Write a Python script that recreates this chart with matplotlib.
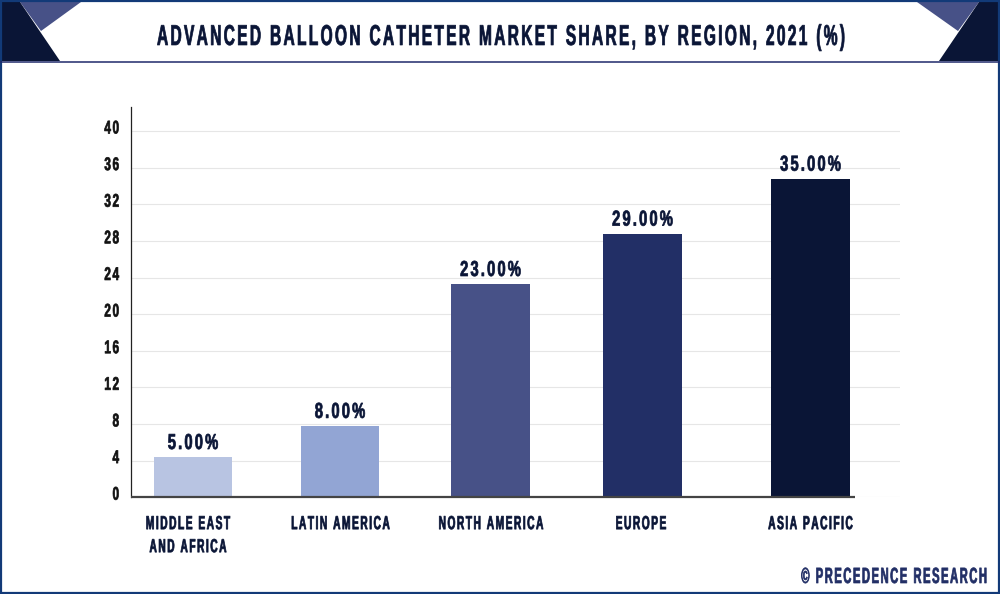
import matplotlib
matplotlib.use("Agg")
import matplotlib.pyplot as plt
import matplotlib.colors as mcolors
from matplotlib import font_manager as fm
from matplotlib.ft2font import LoadFlags
from matplotlib.patches import Polygon, Rectangle
from matplotlib.path import Path
from matplotlib.text import Text
from matplotlib.textpath import TextPath
from matplotlib.transforms import Affine2D, Bbox

regions = ["MIDDLE EAST\nAND AFRICA", "LATIN AMERICA", "NORTH AMERICA", "EUROPE", "ASIA PACIFIC"]
bar_heights = [4.4, 7.8, 23.3, 28.8, 34.8]
bar_labels = ["5.00%", "8.00%", "23.00%", "29.00%", "35.00%"]
bar_colors = ["#b8c4e2", "#92a5d4", "#475187", "#222f66", "#0a1536"]
yticks = [0, 4, 8, 12, 16, 20, 24, 28, 32, 36, 40]
title = "ADVANCED BALLOON CATHETER MARKET SHARE, BY REGION, 2021 (%)"
credit = "© PRECEDENCE RESEARCH"

# pixel layout, the bars are not evenly spaced in the original
bar_x = [193, 340, 490.5, 642.5, 810.5]
label_x = [188, 340.5, 491, 641, 810.5]
bar_w = 78.5
W, H = 1000, 594
navy = "#0a1536"
CAP = 0.729  # cap height of Liberation Sans, in em


class NarrowText(Text):
    # the original uses a condensed tracked font and none is installed,
    # so squeeze the glyph outlines at draw time
    sx = 0.54
    track = 0.08
    dy = 0
    bold = 0.5

    def _lines(self):
        fp = self.get_fontproperties()
        size = fp.get_size_in_points() * self.get_figure().dpi / 72
        font = fm.get_font(fm.findfont(fp))
        font.set_size(100, 72)
        lines = []
        for line in self.get_text().split("\n"):
            parts, pen = [], 0
            for ch in line:
                if ch != " ":
                    p = TextPath((0, 0), ch, size=size, prop=fp)
                    parts.append(p.transformed(Affine2D().scale(self.sx, 1).translate(pen, 0)))
                adv = font.load_char(ord(ch), flags=LoadFlags.NO_HINTING).linearHoriAdvance / 65536 / 100
                pen += (adv * self.sx + self.track) * size
            lines.append((Path.make_compound_path(*parts), pen - self.track * size))
        return lines, size

    def _placed(self):
        lines, size = self._lines()
        step = self._linespacing * size
        cap = CAP * size
        block = cap + step * (len(lines) - 1)
        x, y = self.get_transform().transform(self.get_unitless_position())
        y += self.dy
        va = self.get_verticalalignment()
        if va == "top":
            first = y - cap
        elif va in ("bottom", "baseline"):
            first = y + block - cap
        else:
            first = y + block / 2 - cap
        k = {"left": 0, "center": 0.5, "right": 1}[self.get_horizontalalignment()]
        return [path.transformed(Affine2D().translate(x - k * w, first - i * step))
                for i, (path, w) in enumerate(lines)]

    def _get_layout(self, renderer):
        # box relative to the anchor, so extents match what is really drawn
        x, y = self.get_transform().transform(self.get_unitless_position())
        box = Bbox.union([p.get_extents() for p in self._placed()])
        return box.translated(-x, -y), [], 0

    def draw(self, renderer):
        if not self.get_visible() or not self.get_text():
            return
        color = mcolors.to_rgb(self.get_color())
        gc = renderer.new_gc()
        gc.set_foreground(color)
        gc.set_linewidth(self.bold)
        for path in self._placed():
            renderer.draw_path(gc, path, Affine2D(), rgbFace=color)
        gc.restore()

    def get_window_extent(self, renderer=None, dpi=None):
        return Bbox.union([p.get_extents() for p in self._placed()])


def narrow(t, dy=0, sx=0.54, track=0.08):
    t.__class__ = NarrowText
    t.dy = dy
    t.sx = sx
    t.track = track
    return t


plt.rcParams["font.family"] = ["Liberation Sans", "DejaVu Sans"]
plt.rcParams["font.weight"] = "bold"

fig = plt.figure(figsize=(W/100, H/100), dpi=100)

# background layer in pixel coordinates
bg = fig.add_axes([0, 0, 1, 1])
bg.set_xlim(0, W)
bg.set_ylim(H, 0)
bg.axis("off")
bg.add_patch(Polygon([(20, 2), (81, 2), (41, 31)], color="#475187", lw=0))
bg.add_patch(Polygon([(2, 2), (20, 2), (60, 61), (2, 61)], color=navy, lw=0))
bg.add_patch(Polygon([(917, 2), (979, 2), (958, 31)], color="#475187", lw=0))
bg.add_patch(Polygon([(979, 2), (998, 2), (998, 61), (939, 61)], color=navy, lw=0))
bg.plot([0, W], [61.5, 61.5], color="#1f2a6b", lw=1.1)
bg.add_patch(Rectangle((0.75, 0.75), W-1.5, H-1.5, fill=False, ec="#123a78", lw=1.6))
narrow(bg.text(501, 34.5, title, ha="center", va="center", fontsize=20.7, color=navy))
narrow(bg.text(987, 575, credit, ha="right", va="center", fontsize=15.8, color="#222f66"), sx=0.51, track=0.07)

# plot axes: x is in pixels, y in data units
top, bottom = 107, 497.3
left, right = 131, 900
ax = fig.add_axes([left/W, 1-bottom/H, (right-left)/W, (bottom-top)/H])
ax.patch.set_alpha(0)
ax.set_xlim(left, right)
ax.set_ylim(0, (bottom-top)/9.155)

ax.yaxis.grid(True, color="#e6e6e6", lw=0.8)
ax.set_axisbelow(True)
for s in ["top", "right", "bottom"]:
    ax.spines[s].set_visible(False)
ax.spines["left"].set_linewidth(0.9)
ax.spines["left"].set_color("#222222")
ax.plot([left, 855], [0, 0], color="#444444", lw=1.6, clip_on=False, zorder=4, solid_capstyle="butt")

ax.bar(bar_x, bar_heights, width=bar_w, color=bar_colors, zorder=3)
for x, h, lab in zip(bar_x, bar_heights, bar_labels):
    narrow(ax.text(x, h, lab, ha="center", va="bottom", fontsize=15.6, color=navy), dy=8, sx=0.68, track=0.10)

ax.set_yticks(yticks)
ax.set_yticklabels(yticks, fontsize=13.2, color="#111111")
ax.tick_params(axis="y", length=0, pad=8.6)
for t in ax.get_yticklabels():
    narrow(t, dy=4.3, sx=0.64, track=0.09)
ax.set_xticks(label_x)
ax.set_xticklabels(regions, fontsize=13.6, color=navy, linespacing=1.22, va="top")
ax.tick_params(axis="x", length=0, pad=13)
for t in ax.get_xticklabels():
    narrow(t)

fig.savefig("out.png", dpi=100)
